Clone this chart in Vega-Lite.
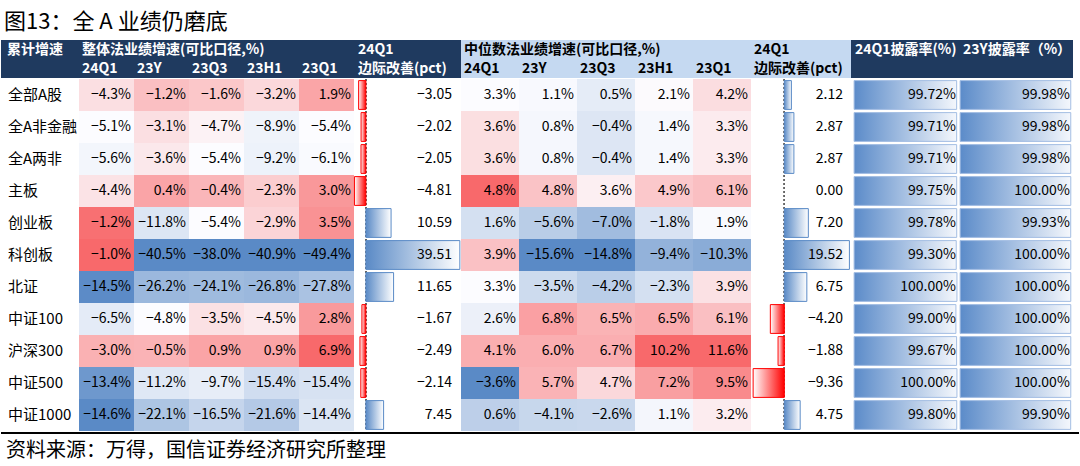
{
  "$schema": "https://vega.github.io/schema/vega-lite/v6.json",
  "padding": {"left": 0, "top": 11, "right": 0, "bottom": 0},
  "background": "white",
  "title": {"text": "图13：全 A 业绩仍磨底", "anchor": "start", "fontSize": 22, "fontWeight": "normal", "font": "Noto Sans CJK SC", "color": "#000000", "offset": 6, "dx": 4},
  "config": {"view": {"stroke": null}, "font": "Noto Sans CJK SC"},
  "spacing": 0,
  "resolve": {"scale": {"color": "independent"}},
  "datasets": {
    "rows": [{"r": "全部A股"}, {"r": "全A非金融"}, {"r": "全A两非"}, {"r": "主板"}, {"r": "创业板"}, {"r": "科创板"}, {"r": "北证"}, {"r": "中证100"}, {"r": "沪深300"}, {"r": "中证500"}, {"r": "中证1000"}],
    "hdr": [
      {"p": "A", "c": "A", "line": 1, "t": "累计增速"},
      {"p": "B", "c": "24Q1", "line": 1, "t": "整体法业绩增速(可比口径,%)"},
      {"p": "B", "c": "24Q1", "line": 2, "t": "24Q1"},
      {"p": "B", "c": "23Y", "line": 2, "t": "23Y"},
      {"p": "B", "c": "23Q3", "line": 2, "t": "23Q3"},
      {"p": "B", "c": "23H1", "line": 2, "t": "23H1"},
      {"p": "B", "c": "23Q1", "line": 2, "t": "23Q1"},
      {"p": "C", "c": "C", "line": 1, "t": "24Q1"},
      {"p": "C", "c": "C", "line": 2, "t": "边际改善(pct)"},
      {"p": "D", "c": "24Q1", "line": 1, "t": "中位数法业绩增速(可比口径,%)"},
      {"p": "D", "c": "24Q1", "line": 2, "t": "24Q1"},
      {"p": "D", "c": "23Y", "line": 2, "t": "23Y"},
      {"p": "D", "c": "23Q3", "line": 2, "t": "23Q3"},
      {"p": "D", "c": "23H1", "line": 2, "t": "23H1"},
      {"p": "D", "c": "23Q1", "line": 2, "t": "23Q1"},
      {"p": "E", "c": "E", "line": 1, "t": "24Q1"},
      {"p": "E", "c": "E", "line": 2, "t": "边际改善(pct)"},
      {"p": "F1", "c": "F", "line": 1, "t": "24Q1披露率(%)"},
      {"p": "F2", "c": "F", "line": 1, "t": "23Y披露率（%）"}
    ],
    "h1": [
      {"r": "全部A股", "c": "24Q1", "v": -0.043}, {"r": "全部A股", "c": "23Y", "v": -0.012}, {"r": "全部A股", "c": "23Q3", "v": -0.016}, {"r": "全部A股", "c": "23H1", "v": -0.032}, {"r": "全部A股", "c": "23Q1", "v": 0.019},
      {"r": "全A非金融", "c": "24Q1", "v": -0.051}, {"r": "全A非金融", "c": "23Y", "v": -0.031}, {"r": "全A非金融", "c": "23Q3", "v": -0.047}, {"r": "全A非金融", "c": "23H1", "v": -0.089}, {"r": "全A非金融", "c": "23Q1", "v": -0.054},
      {"r": "全A两非", "c": "24Q1", "v": -0.056}, {"r": "全A两非", "c": "23Y", "v": -0.036}, {"r": "全A两非", "c": "23Q3", "v": -0.054}, {"r": "全A两非", "c": "23H1", "v": -0.092}, {"r": "全A两非", "c": "23Q1", "v": -0.061},
      {"r": "主板", "c": "24Q1", "v": -0.044}, {"r": "主板", "c": "23Y", "v": 0.004}, {"r": "主板", "c": "23Q3", "v": -0.004}, {"r": "主板", "c": "23H1", "v": -0.023}, {"r": "主板", "c": "23Q1", "v": 0.030},
      {"r": "创业板", "c": "24Q1", "v": -0.012}, {"r": "创业板", "c": "23Y", "v": -0.118}, {"r": "创业板", "c": "23Q3", "v": -0.054}, {"r": "创业板", "c": "23H1", "v": -0.029}, {"r": "创业板", "c": "23Q1", "v": 0.035},
      {"r": "科创板", "c": "24Q1", "v": -0.010}, {"r": "科创板", "c": "23Y", "v": -0.405}, {"r": "科创板", "c": "23Q3", "v": -0.380}, {"r": "科创板", "c": "23H1", "v": -0.409}, {"r": "科创板", "c": "23Q1", "v": -0.494},
      {"r": "北证", "c": "24Q1", "v": -0.145}, {"r": "北证", "c": "23Y", "v": -0.262}, {"r": "北证", "c": "23Q3", "v": -0.241}, {"r": "北证", "c": "23H1", "v": -0.268}, {"r": "北证", "c": "23Q1", "v": -0.278},
      {"r": "中证100", "c": "24Q1", "v": -0.065}, {"r": "中证100", "c": "23Y", "v": -0.048}, {"r": "中证100", "c": "23Q3", "v": -0.035}, {"r": "中证100", "c": "23H1", "v": -0.045}, {"r": "中证100", "c": "23Q1", "v": 0.028},
      {"r": "沪深300", "c": "24Q1", "v": -0.030}, {"r": "沪深300", "c": "23Y", "v": -0.005}, {"r": "沪深300", "c": "23Q3", "v": 0.009}, {"r": "沪深300", "c": "23H1", "v": 0.009}, {"r": "沪深300", "c": "23Q1", "v": 0.069},
      {"r": "中证500", "c": "24Q1", "v": -0.134}, {"r": "中证500", "c": "23Y", "v": -0.112}, {"r": "中证500", "c": "23Q3", "v": -0.097}, {"r": "中证500", "c": "23H1", "v": -0.154}, {"r": "中证500", "c": "23Q1", "v": -0.154},
      {"r": "中证1000", "c": "24Q1", "v": -0.146}, {"r": "中证1000", "c": "23Y", "v": -0.221}, {"r": "中证1000", "c": "23Q3", "v": -0.165}, {"r": "中证1000", "c": "23H1", "v": -0.216}, {"r": "中证1000", "c": "23Q1", "v": -0.144}
    ],
    "h2": [
      {"r": "全部A股", "c": "24Q1", "v": 0.033}, {"r": "全部A股", "c": "23Y", "v": 0.011}, {"r": "全部A股", "c": "23Q3", "v": 0.005}, {"r": "全部A股", "c": "23H1", "v": 0.021}, {"r": "全部A股", "c": "23Q1", "v": 0.042},
      {"r": "全A非金融", "c": "24Q1", "v": 0.036}, {"r": "全A非金融", "c": "23Y", "v": 0.008}, {"r": "全A非金融", "c": "23Q3", "v": -0.004}, {"r": "全A非金融", "c": "23H1", "v": 0.014}, {"r": "全A非金融", "c": "23Q1", "v": 0.033},
      {"r": "全A两非", "c": "24Q1", "v": 0.036}, {"r": "全A两非", "c": "23Y", "v": 0.008}, {"r": "全A两非", "c": "23Q3", "v": -0.004}, {"r": "全A两非", "c": "23H1", "v": 0.014}, {"r": "全A两非", "c": "23Q1", "v": 0.033},
      {"r": "主板", "c": "24Q1", "v": 0.048}, {"r": "主板", "c": "23Y", "v": 0.048}, {"r": "主板", "c": "23Q3", "v": 0.036}, {"r": "主板", "c": "23H1", "v": 0.049}, {"r": "主板", "c": "23Q1", "v": 0.061},
      {"r": "创业板", "c": "24Q1", "v": 0.016}, {"r": "创业板", "c": "23Y", "v": -0.056}, {"r": "创业板", "c": "23Q3", "v": -0.070}, {"r": "创业板", "c": "23H1", "v": -0.018}, {"r": "创业板", "c": "23Q1", "v": 0.019},
      {"r": "科创板", "c": "24Q1", "v": 0.039}, {"r": "科创板", "c": "23Y", "v": -0.156}, {"r": "科创板", "c": "23Q3", "v": -0.148}, {"r": "科创板", "c": "23H1", "v": -0.094}, {"r": "科创板", "c": "23Q1", "v": -0.103},
      {"r": "北证", "c": "24Q1", "v": 0.033}, {"r": "北证", "c": "23Y", "v": -0.035}, {"r": "北证", "c": "23Q3", "v": -0.042}, {"r": "北证", "c": "23H1", "v": -0.023}, {"r": "北证", "c": "23Q1", "v": 0.039},
      {"r": "中证100", "c": "24Q1", "v": 0.026}, {"r": "中证100", "c": "23Y", "v": 0.068}, {"r": "中证100", "c": "23Q3", "v": 0.065}, {"r": "中证100", "c": "23H1", "v": 0.065}, {"r": "中证100", "c": "23Q1", "v": 0.061},
      {"r": "沪深300", "c": "24Q1", "v": 0.041}, {"r": "沪深300", "c": "23Y", "v": 0.060}, {"r": "沪深300", "c": "23Q3", "v": 0.067}, {"r": "沪深300", "c": "23H1", "v": 0.102}, {"r": "沪深300", "c": "23Q1", "v": 0.116},
      {"r": "中证500", "c": "24Q1", "v": -0.036}, {"r": "中证500", "c": "23Y", "v": 0.057}, {"r": "中证500", "c": "23Q3", "v": 0.047}, {"r": "中证500", "c": "23H1", "v": 0.072}, {"r": "中证500", "c": "23Q1", "v": 0.095},
      {"r": "中证1000", "c": "24Q1", "v": 0.006}, {"r": "中证1000", "c": "23Y", "v": -0.041}, {"r": "中证1000", "c": "23Q3", "v": -0.026}, {"r": "中证1000", "c": "23H1", "v": 0.011}, {"r": "中证1000", "c": "23Q1", "v": 0.032}
    ],
    "m1": [
      {"r": "全部A股", "v": -3.05}, {"r": "全A非金融", "v": -2.02}, {"r": "全A两非", "v": -2.05}, {"r": "主板", "v": -4.81}, {"r": "创业板", "v": 10.59}, {"r": "科创板", "v": 39.51},
      {"r": "北证", "v": 11.65}, {"r": "中证100", "v": -1.67}, {"r": "沪深300", "v": -2.49}, {"r": "中证500", "v": -2.14}, {"r": "中证1000", "v": 7.45}
    ],
    "m2": [
      {"r": "全部A股", "v": 2.12}, {"r": "全A非金融", "v": 2.87}, {"r": "全A两非", "v": 2.87}, {"r": "主板", "v": 0.0}, {"r": "创业板", "v": 7.20}, {"r": "科创板", "v": 19.52},
      {"r": "北证", "v": 6.75}, {"r": "中证100", "v": -4.20}, {"r": "沪深300", "v": -1.88}, {"r": "中证500", "v": -9.36}, {"r": "中证1000", "v": 4.75}
    ],
    "d": [
      {"r": "全部A股", "c": "24Q1", "v": 0.9972}, {"r": "全A非金融", "c": "24Q1", "v": 0.9971}, {"r": "全A两非", "c": "24Q1", "v": 0.9971}, {"r": "主板", "c": "24Q1", "v": 0.9975},
      {"r": "创业板", "c": "24Q1", "v": 0.9978}, {"r": "科创板", "c": "24Q1", "v": 0.9930}, {"r": "北证", "c": "24Q1", "v": 1.0}, {"r": "中证100", "c": "24Q1", "v": 0.9900},
      {"r": "沪深300", "c": "24Q1", "v": 0.9967}, {"r": "中证500", "c": "24Q1", "v": 1.0}, {"r": "中证1000", "c": "24Q1", "v": 0.9980},
      {"r": "全部A股", "c": "23Y", "v": 0.9998}, {"r": "全A非金融", "c": "23Y", "v": 0.9998}, {"r": "全A两非", "c": "23Y", "v": 0.9998}, {"r": "主板", "c": "23Y", "v": 1.0},
      {"r": "创业板", "c": "23Y", "v": 0.9993}, {"r": "科创板", "c": "23Y", "v": 1.0}, {"r": "北证", "c": "23Y", "v": 1.0}, {"r": "中证100", "c": "23Y", "v": 1.0},
      {"r": "沪深300", "c": "23Y", "v": 1.0}, {"r": "中证500", "c": "23Y", "v": 1.0}, {"r": "中证1000", "c": "23Y", "v": 0.9990}
    ],
    "src": [{"k": "s", "t": "资料来源：万得，国信证券经济研究所整理"}]
  },
  "vconcat": [
    {
      "spacing": 0,
      "bounds": "flush",
      "hconcat": [
        {
          "width": 78, "height": 38, "view": {"fill": "#1F3A5F", "stroke": null},
          "data": {"name": "hdr"}, "transform": [{"filter": {"field": "p", "equal": "A"}}],
          "mark": {"type": "text", "align": "left", "baseline": "middle", "dx": 6, "fontSize": 14, "fontWeight": "bold", "color": "#FFFFFF"},
          "encoding": {
            "x": {"field": "c", "type": "nominal", "bandPosition": 0, "scale": {"type": "band", "domain": ["A"], "paddingInner": 0, "paddingOuter": 0}, "axis": null},
            "y": {"field": "line", "type": "ordinal", "scale": {"type": "band", "domain": [1, 2], "paddingInner": 0, "paddingOuter": 0}, "axis": null},
            "text": {"field": "t"}
          }
        },
        {
          "width": 275, "height": 38, "view": {"fill": "#1F3A5F", "stroke": null},
          "data": {"name": "hdr"}, "transform": [{"filter": {"field": "p", "equal": "B"}}],
          "mark": {"type": "text", "align": "left", "baseline": "middle", "dx": 3, "fontSize": 14, "fontWeight": "bold", "color": "#FFFFFF"},
          "encoding": {
            "x": {"field": "c", "type": "nominal", "bandPosition": 0, "scale": {"type": "band", "domain": ["24Q1", "23Y", "23Q3", "23H1", "23Q1"], "paddingInner": 0, "paddingOuter": 0}, "axis": null},
            "y": {"field": "line", "type": "ordinal", "scale": {"type": "band", "domain": [1, 2], "paddingInner": 0, "paddingOuter": 0}, "axis": null},
            "text": {"field": "t"}
          }
        },
        {
          "width": 107, "height": 38, "view": {"fill": "#1F3A5F", "stroke": null},
          "data": {"name": "hdr"}, "transform": [{"filter": {"field": "p", "equal": "C"}}],
          "mark": {"type": "text", "align": "left", "baseline": "middle", "dx": 4, "fontSize": 14, "fontWeight": "bold", "color": "#FFFFFF"},
          "encoding": {
            "x": {"field": "c", "type": "nominal", "bandPosition": 0, "scale": {"type": "band", "domain": ["C"], "paddingInner": 0, "paddingOuter": 0}, "axis": null},
            "y": {"field": "line", "type": "ordinal", "scale": {"type": "band", "domain": [1, 2], "paddingInner": 0, "paddingOuter": 0}, "axis": null},
            "text": {"field": "t"}
          }
        },
        {
          "width": 290, "height": 38, "view": {"fill": "#C5D9F1", "stroke": null},
          "data": {"name": "hdr"}, "transform": [{"filter": {"field": "p", "equal": "D"}}],
          "mark": {"type": "text", "align": "left", "baseline": "middle", "dx": 3, "fontSize": 14, "fontWeight": "bold", "color": "#000000"},
          "encoding": {
            "x": {"field": "c", "type": "nominal", "bandPosition": 0, "scale": {"type": "band", "domain": ["24Q1", "23Y", "23Q3", "23H1", "23Q1"], "paddingInner": 0, "paddingOuter": 0}, "axis": null},
            "y": {"field": "line", "type": "ordinal", "scale": {"type": "band", "domain": [1, 2], "paddingInner": 0, "paddingOuter": 0}, "axis": null},
            "text": {"field": "t"}
          }
        },
        {
          "width": 100, "height": 38, "view": {"fill": "#C5D9F1", "stroke": null},
          "data": {"name": "hdr"}, "transform": [{"filter": {"field": "p", "equal": "E"}}],
          "mark": {"type": "text", "align": "left", "baseline": "middle", "dx": 3, "fontSize": 14, "fontWeight": "bold", "color": "#000000"},
          "encoding": {
            "x": {"field": "c", "type": "nominal", "bandPosition": 0, "scale": {"type": "band", "domain": ["E"], "paddingInner": 0, "paddingOuter": 0}, "axis": null},
            "y": {"field": "line", "type": "ordinal", "scale": {"type": "band", "domain": [1, 2], "paddingInner": 0, "paddingOuter": 0}, "axis": null},
            "text": {"field": "t"}
          }
        },
        {
          "width": 108, "height": 38, "view": {"fill": "#1F3A5F", "stroke": null},
          "data": {"name": "hdr"}, "transform": [{"filter": {"field": "p", "equal": "F1"}}],
          "mark": {"type": "text", "align": "left", "baseline": "middle", "dx": 4, "fontSize": 14, "fontWeight": "bold", "color": "#FFFFFF"},
          "encoding": {
            "x": {"field": "c", "type": "nominal", "bandPosition": 0, "scale": {"type": "band", "domain": ["F"], "paddingInner": 0, "paddingOuter": 0}, "axis": null},
            "y": {"field": "line", "type": "ordinal", "scale": {"type": "band", "domain": [1, 2], "paddingInner": 0, "paddingOuter": 0}, "axis": null},
            "text": {"field": "t"}
          }
        },
        {
          "width": 114, "height": 38, "view": {"fill": "#1F3A5F", "stroke": null},
          "data": {"name": "hdr"}, "transform": [{"filter": {"field": "p", "equal": "F2"}}],
          "mark": {"type": "text", "align": "left", "baseline": "middle", "dx": 4, "fontSize": 14, "fontWeight": "bold", "color": "#FFFFFF"},
          "encoding": {
            "x": {"field": "c", "type": "nominal", "bandPosition": 0, "scale": {"type": "band", "domain": ["F"], "paddingInner": 0, "paddingOuter": 0}, "axis": null},
            "y": {"field": "line", "type": "ordinal", "scale": {"type": "band", "domain": [1, 2], "paddingInner": 0, "paddingOuter": 0}, "axis": null},
            "text": {"field": "t"}
          }
        }
      ]
    },
    {
      "spacing": 0,
      "bounds": "flush",
      "resolve": {"scale": {"color": "independent"}},
      "hconcat": [
        {
          "width": 78, "height": 352,
          "data": {"name": "rows"},
          "mark": {"type": "text", "align": "left", "baseline": "middle", "dx": 7, "fontSize": 15, "color": "#000000"},
          "encoding": {
            "y": {"field": "r", "type": "nominal", "scale": {"type": "band", "domain": ["全部A股", "全A非金融", "全A两非", "主板", "创业板", "科创板", "北证", "中证100", "沪深300", "中证500", "中证1000"], "paddingInner": 0, "paddingOuter": 0}, "axis": null},
            "x": {"datum": 0, "type": "quantitative", "scale": {"domain": [0, 1]}, "axis": null},
            "text": {"field": "r"}
          }
        },
        {
          "width": 275, "height": 352,
          "data": {"name": "h1"},
          "encoding": {
            "x": {"field": "c", "type": "nominal", "scale": {"type": "band", "domain": ["24Q1", "23Y", "23Q3", "23H1", "23Q1"], "paddingInner": 0, "paddingOuter": 0}, "axis": null},
            "y": {"field": "r", "type": "nominal", "scale": {"type": "band", "domain": ["全部A股", "全A非金融", "全A两非", "主板", "创业板", "科创板", "北证", "中证100", "沪深300", "中证500", "中证1000"], "paddingInner": 0, "paddingOuter": 0}, "axis": null}
          },
          "layer": [
            {"transform": [{"filter": {"field": "c", "equal": "24Q1"}}], "mark": {"type": "rect"},
             "encoding": {"color": {"field": "v", "type": "quantitative", "legend": null, "scale": {"domain": [-0.146, -0.051, -0.010], "range": ["#5A8AC6", "#FCFCFF", "#F8696B"], "interpolate": "rgb", "nice": false, "zero": false, "clamp": true}}}},
            {"transform": [{"filter": {"field": "c", "equal": "23Y"}}], "mark": {"type": "rect"},
             "encoding": {"color": {"field": "v", "type": "quantitative", "legend": null, "scale": {"domain": [-0.405, -0.048, 0.039], "range": ["#5A8AC6", "#FCFCFF", "#F8696B"], "interpolate": "rgb", "nice": false, "zero": false, "clamp": true}}}},
            {"transform": [{"filter": {"field": "c", "equal": "23Q3"}}], "mark": {"type": "rect"},
             "encoding": {"color": {"field": "v", "type": "quantitative", "legend": null, "scale": {"domain": [-0.380, -0.054, 0.051], "range": ["#5A8AC6", "#FCFCFF", "#F8696B"], "interpolate": "rgb", "nice": false, "zero": false, "clamp": true}}}},
            {"transform": [{"filter": {"field": "c", "equal": "23H1"}}], "mark": {"type": "rect"},
             "encoding": {"color": {"field": "v", "type": "quantitative", "legend": null, "scale": {"domain": [-0.409, -0.060, 0.055], "range": ["#5A8AC6", "#FCFCFF", "#F8696B"], "interpolate": "rgb", "nice": false, "zero": false, "clamp": true}}}},
            {"transform": [{"filter": {"field": "c", "equal": "23Q1"}}], "mark": {"type": "rect"},
             "encoding": {"color": {"field": "v", "type": "quantitative", "legend": null, "scale": {"domain": [-0.494, -0.054, 0.069], "range": ["#5A8AC6", "#FCFCFF", "#F8696B"], "interpolate": "rgb", "nice": false, "zero": false, "clamp": true}}}},
            {"mark": {"type": "text", "align": "right", "baseline": "middle", "dx": -3, "fontSize": 14, "color": "#000000"},
             "encoding": {
               "x": {"field": "c", "type": "nominal", "bandPosition": 1, "scale": {"type": "band", "domain": ["24Q1", "23Y", "23Q3", "23H1", "23Q1"], "paddingInner": 0, "paddingOuter": 0}, "axis": null},
               "text": {"field": "v", "type": "quantitative", "format": ".1%"}
             }}
          ],
          "resolve": {"scale": {"color": "independent"}}
        },
        {
          "width": 107, "height": 352,
          "data": {"name": "m1"},
          "layer": [
            {"mark": {"type": "rule", "color": "#666666", "strokeDash": [2, 2], "strokeWidth": 1},
             "encoding": {"x": {"datum": 0, "type": "quantitative", "scale": {"domain": [-5, 40], "nice": false, "zero": false}, "axis": null}}},
            {"transform": [{"filter": "datum.v > 0"}],
             "mark": {"type": "bar", "height": {"band": 0.9}, "stroke": "#5A8AC6", "strokeWidth": 1,
                      "fill": {"gradient": "linear", "x1": 0, "y1": 0, "x2": 1, "y2": 0, "stops": [{"offset": 0, "color": "#5A8AC6"}, {"offset": 1, "color": "#FFFFFF"}]}},
             "encoding": {
               "y": {"field": "r", "type": "nominal", "scale": {"type": "band", "domain": ["全部A股", "全A非金融", "全A两非", "主板", "创业板", "科创板", "北证", "中证100", "沪深300", "中证500", "中证1000"], "paddingInner": 0, "paddingOuter": 0}, "axis": null},
               "x": {"field": "v", "type": "quantitative", "scale": {"domain": [-5, 40], "nice": false, "zero": false}, "axis": null}}},
            {"transform": [{"filter": "datum.v < 0"}],
             "mark": {"type": "bar", "height": {"band": 0.9}, "stroke": "#FF0000", "strokeWidth": 1,
                      "fill": {"gradient": "linear", "x1": 0, "y1": 0, "x2": 1, "y2": 0, "stops": [{"offset": 0, "color": "#FFFFFF"}, {"offset": 1, "color": "#FF0000"}]}},
             "encoding": {
               "y": {"field": "r", "type": "nominal", "scale": {"type": "band", "domain": ["全部A股", "全A非金融", "全A两非", "主板", "创业板", "科创板", "北证", "中证100", "沪深300", "中证500", "中证1000"], "paddingInner": 0, "paddingOuter": 0}, "axis": null},
               "x": {"field": "v", "type": "quantitative", "scale": {"domain": [-5, 40], "nice": false, "zero": false}, "axis": null}}},
            {"mark": {"type": "text", "align": "right", "baseline": "middle", "dx": -9, "fontSize": 14, "color": "#000000"},
             "encoding": {
               "y": {"field": "r", "type": "nominal", "scale": {"type": "band", "domain": ["全部A股", "全A非金融", "全A两非", "主板", "创业板", "科创板", "北证", "中证100", "沪深300", "中证500", "中证1000"], "paddingInner": 0, "paddingOuter": 0}, "axis": null},
               "x": {"datum": 40, "type": "quantitative", "scale": {"domain": [-5, 40], "nice": false, "zero": false}, "axis": null},
               "text": {"field": "v", "type": "quantitative", "format": ".2f"}
             }}
          ]
        },
        {
          "width": 290, "height": 352,
          "data": {"name": "h2"},
          "encoding": {
            "x": {"field": "c", "type": "nominal", "scale": {"type": "band", "domain": ["24Q1", "23Y", "23Q3", "23H1", "23Q1"], "paddingInner": 0, "paddingOuter": 0}, "axis": null},
            "y": {"field": "r", "type": "nominal", "scale": {"type": "band", "domain": ["全部A股", "全A非金融", "全A两非", "主板", "创业板", "科创板", "北证", "中证100", "沪深300", "中证500", "中证1000"], "paddingInner": 0, "paddingOuter": 0}, "axis": null}
          },
          "layer": [
            {"transform": [{"filter": {"field": "c", "equal": "24Q1"}}], "mark": {"type": "rect"},
             "encoding": {"color": {"field": "v", "type": "quantitative", "legend": null, "scale": {"domain": [-0.036, 0.033, 0.048], "range": ["#5A8AC6", "#FCFCFF", "#F8696B"], "interpolate": "rgb", "nice": false, "zero": false, "clamp": true}}}},
            {"transform": [{"filter": {"field": "c", "equal": "23Y"}}], "mark": {"type": "rect"},
             "encoding": {"color": {"field": "v", "type": "quantitative", "legend": null, "scale": {"domain": [-0.156, 0.015, 0.100], "range": ["#5A8AC6", "#FCFCFF", "#F8696B"], "interpolate": "rgb", "nice": false, "zero": false, "clamp": true}}}},
            {"transform": [{"filter": {"field": "c", "equal": "23Q3"}}], "mark": {"type": "rect"},
             "encoding": {"color": {"field": "v", "type": "quantitative", "legend": null, "scale": {"domain": [-0.148, 0.030, 0.100], "range": ["#5A8AC6", "#FCFCFF", "#F8696B"], "interpolate": "rgb", "nice": false, "zero": false, "clamp": true}}}},
            {"transform": [{"filter": {"field": "c", "equal": "23H1"}}], "mark": {"type": "rect"},
             "encoding": {"color": {"field": "v", "type": "quantitative", "legend": null, "scale": {"domain": [-0.156, 0.020, 0.102], "range": ["#5A8AC6", "#FCFCFF", "#F8696B"], "interpolate": "rgb", "nice": false, "zero": false, "clamp": true}}}},
            {"transform": [{"filter": {"field": "c", "equal": "23Q1"}}], "mark": {"type": "rect"},
             "encoding": {"color": {"field": "v", "type": "quantitative", "legend": null, "scale": {"domain": [-0.156, 0.022, 0.116], "range": ["#5A8AC6", "#FCFCFF", "#F8696B"], "interpolate": "rgb", "nice": false, "zero": false, "clamp": true}}}},
            {"mark": {"type": "text", "align": "right", "baseline": "middle", "dx": -3, "fontSize": 14, "color": "#000000"},
             "encoding": {
               "x": {"field": "c", "type": "nominal", "bandPosition": 1, "scale": {"type": "band", "domain": ["24Q1", "23Y", "23Q3", "23H1", "23Q1"], "paddingInner": 0, "paddingOuter": 0}, "axis": null},
               "text": {"field": "v", "type": "quantitative", "format": ".1%"}
             }}
          ],
          "resolve": {"scale": {"color": "independent"}}
        },
        {
          "width": 100, "height": 352,
          "data": {"name": "m2"},
          "layer": [
            {"mark": {"type": "rule", "color": "#666666", "strokeDash": [2, 2], "strokeWidth": 1},
             "encoding": {"x": {"datum": 0, "type": "quantitative", "scale": {"domain": [-10, 20], "nice": false, "zero": false}, "axis": null}}},
            {"transform": [{"filter": "datum.v > 0"}],
             "mark": {"type": "bar", "height": {"band": 0.9}, "stroke": "#5A8AC6", "strokeWidth": 1,
                      "fill": {"gradient": "linear", "x1": 0, "y1": 0, "x2": 1, "y2": 0, "stops": [{"offset": 0, "color": "#5A8AC6"}, {"offset": 1, "color": "#FFFFFF"}]}},
             "encoding": {
               "y": {"field": "r", "type": "nominal", "scale": {"type": "band", "domain": ["全部A股", "全A非金融", "全A两非", "主板", "创业板", "科创板", "北证", "中证100", "沪深300", "中证500", "中证1000"], "paddingInner": 0, "paddingOuter": 0}, "axis": null},
               "x": {"field": "v", "type": "quantitative", "scale": {"domain": [-10, 20], "nice": false, "zero": false}, "axis": null}}},
            {"transform": [{"filter": "datum.v < 0"}],
             "mark": {"type": "bar", "height": {"band": 0.9}, "stroke": "#FF0000", "strokeWidth": 1,
                      "fill": {"gradient": "linear", "x1": 0, "y1": 0, "x2": 1, "y2": 0, "stops": [{"offset": 0, "color": "#FFFFFF"}, {"offset": 1, "color": "#FF0000"}]}},
             "encoding": {
               "y": {"field": "r", "type": "nominal", "scale": {"type": "band", "domain": ["全部A股", "全A非金融", "全A两非", "主板", "创业板", "科创板", "北证", "中证100", "沪深300", "中证500", "中证1000"], "paddingInner": 0, "paddingOuter": 0}, "axis": null},
               "x": {"field": "v", "type": "quantitative", "scale": {"domain": [-10, 20], "nice": false, "zero": false}, "axis": null}}},
            {"mark": {"type": "text", "align": "right", "baseline": "middle", "dx": -8, "fontSize": 14, "color": "#000000"},
             "encoding": {
               "y": {"field": "r", "type": "nominal", "scale": {"type": "band", "domain": ["全部A股", "全A非金融", "全A两非", "主板", "创业板", "科创板", "北证", "中证100", "沪深300", "中证500", "中证1000"], "paddingInner": 0, "paddingOuter": 0}, "axis": null},
               "x": {"datum": 20, "type": "quantitative", "scale": {"domain": [-10, 20], "nice": false, "zero": false}, "axis": null},
               "text": {"field": "v", "type": "quantitative", "format": ".2f"}
             }}
          ]
        },
        {
          "width": 108, "height": 352,
          "data": {"name": "d"},
          "transform": [{"filter": {"field": "c", "equal": "24Q1"}}],
          "encoding": {
            "y": {"field": "r", "type": "nominal", "scale": {"type": "band", "domain": ["全部A股", "全A非金融", "全A两非", "主板", "创业板", "科创板", "北证", "中证100", "沪深300", "中证500", "中证1000"], "paddingInner": 0, "paddingOuter": 0}, "axis": null}
          },
          "layer": [
            {"mark": {"type": "bar", "height": {"band": 0.9}, "stroke": "#A4BEE3", "strokeWidth": 1,
                      "fill": {"gradient": "linear", "x1": 0, "y1": 0, "x2": 1, "y2": 0, "stops": [{"offset": 0, "color": "#5B8BC9"}, {"offset": 1, "color": "#F4F7FC"}]}},
             "encoding": {"x": {"field": "v", "type": "quantitative", "scale": {"domain": [-0.03, 1.02], "nice": false, "zero": false}, "axis": null}}},
            {"mark": {"type": "text", "align": "right", "baseline": "middle", "dx": -1, "fontSize": 14, "color": "#000000"},
             "encoding": {
               "x": {"datum": 1, "type": "quantitative", "scale": {"domain": [-0.03, 1.02], "nice": false, "zero": false}, "axis": null},
               "text": {"field": "v", "type": "quantitative", "format": ".2%"}
             }}
          ]
        },
        {
          "width": 114, "height": 352,
          "data": {"name": "d"},
          "transform": [{"filter": {"field": "c", "equal": "23Y"}}],
          "encoding": {
            "y": {"field": "r", "type": "nominal", "scale": {"type": "band", "domain": ["全部A股", "全A非金融", "全A两非", "主板", "创业板", "科创板", "北证", "中证100", "沪深300", "中证500", "中证1000"], "paddingInner": 0, "paddingOuter": 0}, "axis": null}
          },
          "layer": [
            {"mark": {"type": "bar", "height": {"band": 0.9}, "stroke": "#A4BEE3", "strokeWidth": 1,
                      "fill": {"gradient": "linear", "x1": 0, "y1": 0, "x2": 1, "y2": 0, "stops": [{"offset": 0, "color": "#5B8BC9"}, {"offset": 1, "color": "#F4F7FC"}]}},
             "encoding": {"x": {"field": "v", "type": "quantitative", "scale": {"domain": [-0.01, 1.02], "nice": false, "zero": false}, "axis": null}}},
            {"mark": {"type": "text", "align": "right", "baseline": "middle", "dx": -1, "fontSize": 14, "color": "#000000"},
             "encoding": {
               "x": {"datum": 1, "type": "quantitative", "scale": {"domain": [-0.01, 1.02], "nice": false, "zero": false}, "axis": null},
               "text": {"field": "v", "type": "quantitative", "format": ".2%"}
             }}
          ]
        }
      ]
    },
    {
      "width": 1078, "height": 32,
      "data": {"name": "src"},
      "layer": [
        {"mark": {"type": "rule", "color": "#000000", "strokeWidth": 2},
         "encoding": {"y": {"field": "k", "type": "nominal", "bandPosition": 0, "scale": {"type": "band", "paddingInner": 0, "paddingOuter": 0}, "axis": null}}},
        {"mark": {"type": "text", "align": "left", "baseline": "middle", "dx": 5, "dy": 2, "fontSize": 20, "color": "#000000"},
         "encoding": {
           "y": {"field": "k", "type": "nominal", "scale": {"type": "band", "paddingInner": 0, "paddingOuter": 0}, "axis": null},
           "x": {"datum": 0, "type": "quantitative", "scale": {"domain": [0, 1]}, "axis": null},
           "text": {"field": "t"}
         }}
      ]
    }
  ]
}
